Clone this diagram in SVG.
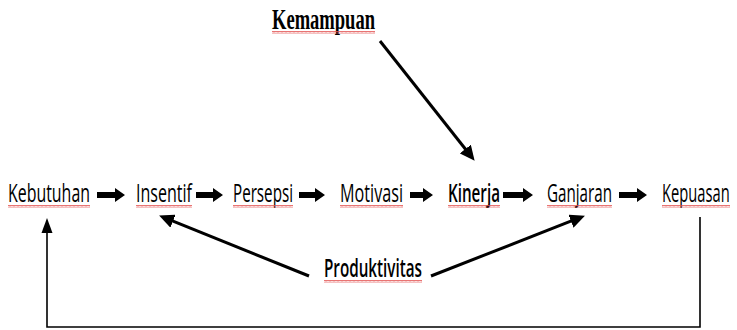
<svg xmlns="http://www.w3.org/2000/svg" width="737" height="330" viewBox="0 0 737 330">
  <defs>
    <style>
      .lbl { font-family: "Open Sans", "Liberation Sans", sans-serif; font-size: 25px; fill: #000; }
      .semi { font-weight: 600; }
      .serif { font-family: "Liberation Serif", "DejaVu Serif", serif; font-size: 29px; font-weight: bold; fill: #000; }
      .fat { fill: #000; }
      .conn { fill: none; stroke: #000; stroke-width: 3; }
      .thin { fill: none; stroke: #000; stroke-width: 1.6; }
      .squig { fill: url(#wave); }
    </style>
    <pattern id="wave" width="4" height="3" patternUnits="userSpaceOnUse">
      <path d="M0,2.5 L1,0.5 L2,2.5 L3,0.5 L4,2.5" fill="none" stroke="#e2504f" stroke-width="0.8"/>
    </pattern>
    <marker id="head" markerUnits="userSpaceOnUse" markerWidth="16" markerHeight="14" refX="8" refY="7" orient="auto">
      <path d="M0,0 L15,7 L0,14 Z" fill="#000"/>
    </marker>
  </defs>
  <rect width="737" height="330" fill="#fff"/>

  <g id="kemampuan">
    <text class="serif" x="272" y="29" textLength="103" lengthAdjust="spacingAndGlyphs">Kemampuan</text>
    <rect class="squig" x="272" y="31" width="103" height="3"/>
  </g>
  <g id="kebutuhan">
    <text class="lbl" x="8" y="202" textLength="82" lengthAdjust="spacingAndGlyphs">Kebutuhan</text>
    <rect class="squig" x="8" y="205" width="82" height="3"/>
  </g>
  <g id="insentif">
    <text class="lbl" x="136" y="202" textLength="56" lengthAdjust="spacingAndGlyphs">Insentif</text>
    <rect class="squig" x="136" y="205" width="56" height="3"/>
  </g>
  <g id="persepsi">
    <text class="lbl" x="233" y="202" textLength="60" lengthAdjust="spacingAndGlyphs">Persepsi</text>
    <rect class="squig" x="233" y="205" width="60" height="3"/>
  </g>
  <g id="motivasi">
    <text class="lbl" x="340" y="202" textLength="63" lengthAdjust="spacingAndGlyphs">Motivasi</text>
    <rect class="squig" x="340" y="205" width="63" height="3"/>
  </g>
  <g id="kinerja">
    <text class="lbl semi" x="448" y="202" textLength="52" lengthAdjust="spacingAndGlyphs">Kinerja</text>
    <rect class="squig" x="448" y="205" width="52" height="3"/>
  </g>
  <g id="ganjaran">
    <text class="lbl" x="547" y="202" textLength="65" lengthAdjust="spacingAndGlyphs">Ganjaran</text>
    <rect class="squig" x="547" y="205" width="65" height="3"/>
  </g>
  <g id="kepuasan">
    <text class="lbl" transform="translate(662,202) scale(0.6,1)" x="0" y="0" textLength="113" lengthAdjust="spacingAndGlyphs">Kepuasan</text>
    <rect class="squig" x="662" y="205" width="68" height="3"/>
  </g>
  <g id="produktivitas">
    <text class="lbl semi" x="324" y="277" textLength="98" lengthAdjust="spacingAndGlyphs">Produktivitas</text>
    <rect class="squig" x="324" y="280" width="98" height="3"/>
  </g>

  <g id="connectors">
    <path class="fat" d="M97,192 H115 V188 L125,195 L115,202 V198 H97 Z"/>
    <path class="fat" d="M196,192 H213 V188 L223,195 L213,202 V198 H196 Z"/>
    <path class="fat" d="M299,192 H315 V188 L325,195 L315,202 V198 H299 Z"/>
    <path class="fat" d="M410,192 H423 V188 L433,195 L423,202 V198 H410 Z"/>
    <path class="fat" d="M503,192 H523 V188 L533,195 L523,202 V198 H503 Z"/>
    <path class="fat" d="M619,192 H637 V188 L647,195 L637,202 V198 H619 Z"/>

    <path class="conn" d="M380,41 L470.3,155.3" marker-end="url(#head)"/>
    <path class="conn" d="M309,276 L165.6,218.2" marker-end="url(#head)"/>
    <path class="conn" d="M431,276 L578.4,218.2" marker-end="url(#head)"/>

    <path class="thin" d="M700,217 V327 H47 V232"/>
    <path d="M47,218 L52.5,233 L41.5,233 Z" fill="#000"/>
  </g>
</svg>
